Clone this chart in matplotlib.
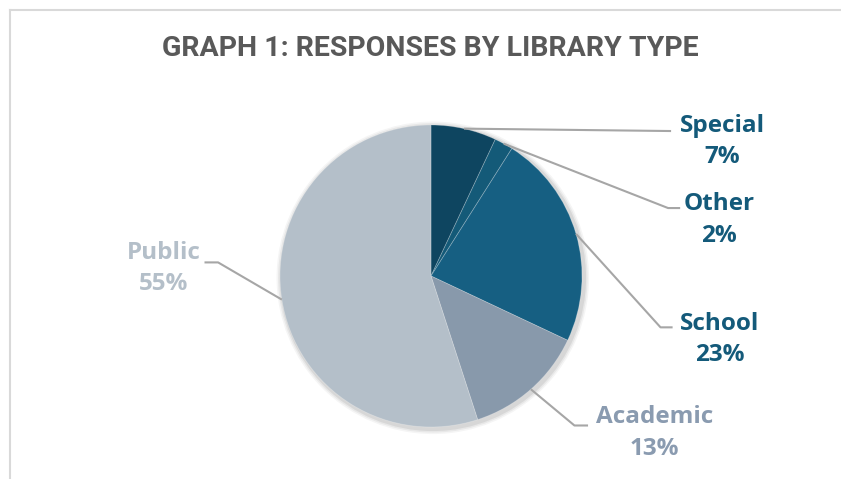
import numpy as np
import matplotlib
matplotlib.use("Agg")
import matplotlib.pyplot as plt

# ---- data ----
categories = ["Special", "Other", "School", "Academic", "Public"]
values = [7, 2, 23, 13, 55]
labels_pct = ["7%", "2%", "23%", "13%", "55%"]
title = "GRAPH 1: RESPONSES BY LIBRARY TYPE"

# ---- style ----
slice_colors = ["#0e4560", "#145a78", "#165f82", "#8899ab", "#b4bfc9"]
text_colors = ["#145a7a", "#145a7a", "#145a7a", "#8a9bb0", "#b4bfc9"]
# label block centres (layout, data units where pie radius = 1)
label_pos = [(1.93, 0.89), (1.91, 0.37), (1.91, -0.42), (1.48, -1.04), (-1.77, 0.05)]
# elbow points of leader lines and horizontal end
elbow = [(1.59, 0.96), (1.57, 0.45), (1.52, -0.34), (0.95, -0.99), (-1.41, 0.09)]
elbow_end = [(1.59, 0.96), (1.65, 0.45), (1.60, -0.34), (1.04, -0.99), (-1.50, 0.09)]

W, H = 841, 479
R_PX = 151.0
CX, CY = 431.0, 276.0

fig = plt.figure(figsize=(W / 100, H / 100), dpi=100)
ax = fig.add_axes([0, 0, 1, 1])

# soft shadow
for dr, a in [(0.035, 0.04), (0.025, 0.05), (0.015, 0.07)]:
    ax.add_patch(plt.Circle((0.012, -0.012), 1 + dr, color="#000000", alpha=a, lw=0, zorder=1))

wedges, _ = ax.pie(values, colors=slice_colors, startangle=90, counterclock=False,
                   radius=1.0, center=(0, 0),
                   wedgeprops=dict(edgecolor=(1, 1, 1, 0.25), linewidth=0.6))
for w in wedges:
    w.set_zorder(2)

ax.set_xlim((0 - CX) / R_PX, (W - CX) / R_PX)
ax.set_ylim((CY - H) / R_PX, (CY - 0) / R_PX)
ax.set_aspect("equal")
ax.axis("off")

# frame (chart area border)
fx0 = (10 - CX) / R_PX
fy0 = (CY - 10) / R_PX
ax.plot([fx0, fx0], [fy0, (CY - H - 5) / R_PX], color="#d9d9d9", lw=1.5, clip_on=False)
ax.plot([fx0, (W + 5 - CX) / R_PX], [fy0, fy0], color="#d9d9d9", lw=1.5, clip_on=False)

font_lbl = ["Open Sans", "DejaVu Sans"]
total = sum(values)
cum = 0
for i, v in enumerate(values):
    mid = 90 - 360 * (cum + v / 2) / total
    cum += v
    sx, sy = np.cos(np.radians(mid)), np.sin(np.radians(mid))
    ex, ey = elbow[i]
    hx, hy = elbow_end[i]
    ax.plot([sx, ex, hx], [sy, ey, hy], color="#a6a6a6", lw=1.5,
            solid_capstyle="butt", zorder=3)
    lx, ly = label_pos[i]
    ax.text(lx, ly + 0.105, categories[i], ha="center", va="center",
            fontsize=17.5, fontweight="bold", color=text_colors[i], family=font_lbl)
    ax.text(lx, ly - 0.105, labels_pct[i], ha="center", va="center",
            fontsize=17.5, fontweight="bold", color=text_colors[i], family=font_lbl)

ax.text((430 - CX) / R_PX, (CY - 48) / R_PX, title, ha="center", va="center",
        fontsize=20.5, fontweight="bold", color="#595959", fontstretch="condensed",
        family=["Roboto", "DejaVu Sans"])

fig.savefig("out.png", dpi=100, facecolor="white")
